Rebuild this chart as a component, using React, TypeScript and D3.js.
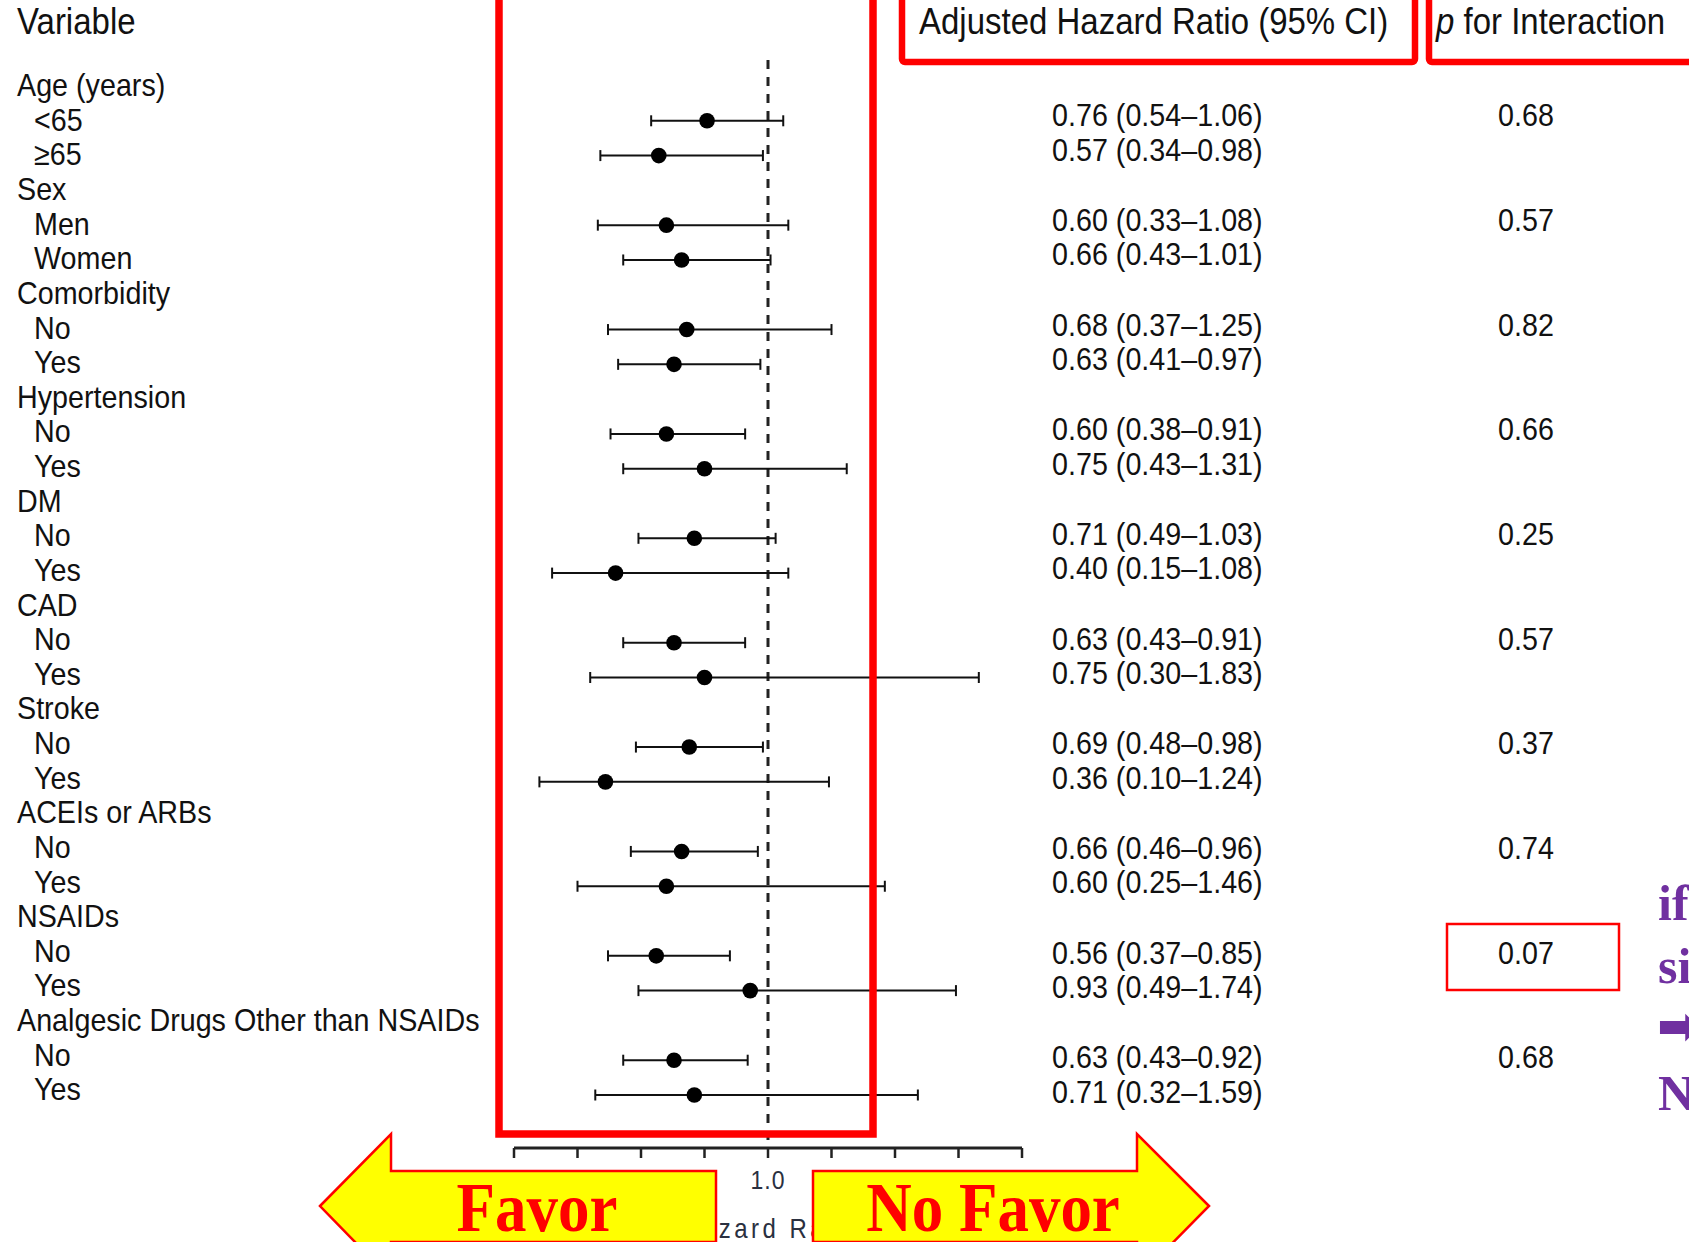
import * as d3 from "d3";

// subgroup table
const groups = [
  "Age (years)",
  "Sex",
  "Comorbidity",
  "Hypertension",
  "DM",
  "CAD",
  "Stroke",
  "ACEIs or ARBs",
  "NSAIDs",
  "Analgesic Drugs Other than NSAIDs",
];
const subgroups = [
  ["<65", "≥65"],
  ["Men", "Women"],
  ["No", "Yes"],
  ["No", "Yes"],
  ["No", "Yes"],
  ["No", "Yes"],
  ["No", "Yes"],
  ["No", "Yes"],
  ["No", "Yes"],
  ["No", "Yes"],
];
const hr = [0.76, 0.57, 0.6, 0.66, 0.68, 0.63, 0.6, 0.75, 0.71, 0.4, 0.63, 0.75, 0.69, 0.36, 0.66, 0.6, 0.56, 0.93, 0.63, 0.71];
const ciLow = [0.54, 0.34, 0.33, 0.43, 0.37, 0.41, 0.38, 0.43, 0.49, 0.15, 0.43, 0.3, 0.48, 0.1, 0.46, 0.25, 0.37, 0.49, 0.43, 0.32];
const ciHigh = [1.06, 0.98, 1.08, 1.01, 1.25, 0.97, 0.91, 1.31, 1.03, 1.08, 0.91, 1.83, 0.98, 1.24, 0.96, 1.46, 0.85, 1.74, 0.92, 1.59];
const pInteraction = ["0.68", "0.57", "0.82", "0.66", "0.25", "0.57", "0.37", "0.74", "0.07", "0.68"];

// only 1.0 is visible, the rest sit under the arrows
const xTicks = [0, 0.25, 0.5, 0.75, 1, 1.25, 1.5, 1.75, 2];
const xTickLabels = ["", "", "", "", "1.0", "", "", "", ""];

const W = 1689;
const H = 1242;
const SY = 1.12; // text in the source is slightly stretched vertically
const sans = "Liberation Sans, Arial, sans-serif";
const serif = "Liberation Serif, Times New Roman, serif";
const ink = "#111";
const red = "#ff0000";
const purple = "#7030a0";

const x = d3.scaleLinear().domain([0, 2]).range([514, 1022]);
const yLab = d3.scaleLinear().domain([0, 29]).range([85, 1089]);
const yMark = d3.scaleLinear().domain([0, 29]).range([86, 1095]);
const yText = d3.scaleLinear().domain([0, 9]).range([115, 1057]);

const fmt = (v: number) => v.toFixed(2);

function T(props: {
  x: number;
  y: number;
  size: number;
  children: React.ReactNode;
  anchor?: string;
  fill?: string;
  family?: string;
  weight?: string | number;
  spacing?: number;
}) {
  return (
    <text
      transform={`translate(${props.x},${props.y}) scale(1,${SY})`}
      dy="0.35em"
      fontSize={props.size}
      fontFamily={props.family ?? sans}
      fontWeight={props.weight ?? "normal"}
      textAnchor={props.anchor ?? "start"}
      fill={props.fill ?? ink}
      letterSpacing={props.spacing ?? 0}
    >
      {props.children}
    </text>
  );
}

export default function App() {
  const rows: { label: string; row: number; indent: boolean; k: number; g: number; s: number }[] = [];
  groups.forEach((g, gi) => {
    rows.push({ label: g, row: gi * 3, indent: false, k: -1, g: gi, s: -1 });
    subgroups[gi].forEach((s, si) => {
      rows.push({ label: s, row: gi * 3 + 1 + si, indent: true, k: gi * 2 + si, g: gi, s: si });
    });
  });
  const markRows = rows.filter((r) => r.k >= 0);

  const axisY = 1148;
  const zeroLine = x(1);

  const leftArrow = d3.line()([
    [320, 1206],
    [391, 1134],
    [391, 1171],
    [716, 1171],
    [716, 1242],
    [391, 1242],
    [391, 1279],
  ]) + "Z";
  const rightArrow = d3.line()([
    [1209, 1206],
    [1137, 1134],
    [1137, 1171],
    [813, 1171],
    [813, 1242],
    [1137, 1242],
    [1137, 1279],
  ]) + "Z";

  return (
    <svg
      width={W}
      height={H}
      style={{ position: "absolute", left: 0, top: 0, display: "block", background: "#fff" }}
    >
      {/* headers */}
      <T x={17} y={21} size={33}>Variable</T>
      <T x={919} y={21} size={33}>Adjusted Hazard Ratio (95% CI)</T>
      <T x={1436} y={21} size={33}>
        <tspan fontStyle="italic">p</tspan> for Interaction
      </T>

      {/* row labels */}
      {rows.map((r) => (
        <T key={`l${r.row}`} x={r.indent ? 34 : 17} y={yLab(r.row)} size={28.7}>
          {r.label}
        </T>
      ))}

      {/* HR text */}
      {markRows.map((r) => (
        <T key={`h${r.row}`} x={1052} y={yText(r.g) + r.s * 34.4} size={28.7}>
          {`${fmt(hr[r.k])} (${fmt(ciLow[r.k])}–${fmt(ciHigh[r.k])})`}
        </T>
      ))}

      {/* p for interaction */}
      {pInteraction.map((p, gi) => (
        <T key={`p${gi}`} x={1526} y={yText(gi)} size={28.7} anchor="middle">
          {p}
        </T>
      ))}

      {/* reference line */}
      <line
        x1={zeroLine}
        x2={zeroLine}
        y1={60}
        y2={axisY}
        stroke="#222"
        strokeWidth={3}
        strokeDasharray="9 8"
      />

      {/* CI and points */}
      {markRows.map((r) => {
        const yy = yMark(r.row);
        return (
          <g key={`m${r.row}`}>
            <line x1={x(ciLow[r.k])} x2={x(ciHigh[r.k])} y1={yy} y2={yy} stroke={ink} strokeWidth={2} />
            <line x1={x(ciLow[r.k])} x2={x(ciLow[r.k])} y1={yy - 5.5} y2={yy + 5.5} stroke={ink} strokeWidth={2} />
            <line x1={x(ciHigh[r.k])} x2={x(ciHigh[r.k])} y1={yy - 5.5} y2={yy + 5.5} stroke={ink} strokeWidth={2} />
            <circle cx={x(hr[r.k])} cy={yy} r={7.8} fill="#000" />
          </g>
        );
      })}

      {/* x axis */}
      <line x1={x(0)} x2={x(2)} y1={axisY} y2={axisY} stroke="#222" strokeWidth={3} />
      {xTicks.map((t, i) => (
        <g key={`t${i}`}>
          <line x1={x(t)} x2={x(t)} y1={axisY} y2={axisY + 10} stroke="#222" strokeWidth={2.5} />
          {xTickLabels[i] && (
            <T x={x(t)} y={1180} size={23} anchor="middle" fill="#2a3040" spacing={1}>
              {xTickLabels[i]}
            </T>
          )}
        </g>
      ))}
      <T x={681} y={1229} size={24} fill="#2a3040" spacing={3.5}>
        Hazard Ratio
      </T>

      {/* red emphasis boxes */}
      <rect x={499} y={-20} width={374} height={1154} fill="none" stroke={red} strokeWidth={7.5} />
      <rect x={902} y={-20} width={513} height={82} rx={3} fill="none" stroke={red} strokeWidth={6.5} />
      <rect x={1429} y={-20} width={300} height={82} rx={3} fill="none" stroke={red} strokeWidth={6.5} />
      <rect x={1447} y={924} width={172} height={66} fill="none" stroke={red} strokeWidth={2.5} />

      {/* arrows */}
      <path d={leftArrow} fill="#ffff00" stroke={red} strokeWidth={2.5} />
      <path d={rightArrow} fill="#ffff00" stroke={red} strokeWidth={2.5} />
      <T x={537} y={1206} size={63} anchor="middle" fill={red} family={serif} weight="bold">
        Favor
      </T>
      <T x={993} y={1206} size={63} anchor="middle" fill={red} family={serif} weight="bold">
        No Favor
      </T>

      {/* cut-off note on the right */}
      <text x={1658} y={920} fontSize={50} fontFamily={serif} fontWeight="bold" fill={purple}>if</text>
      <text x={1658} y={983} fontSize={50} fontFamily={serif} fontWeight="bold" fill={purple}>si</text>
      <text x={1657} y={1044} fontSize={52} fontFamily="DejaVu Sans, sans-serif" fontWeight="bold" fill={purple}>➡</text>
      <text x={1658} y={1110} fontSize={50} fontFamily={serif} fontWeight="bold" fill={purple}>N</text>
    </svg>
  );
}
